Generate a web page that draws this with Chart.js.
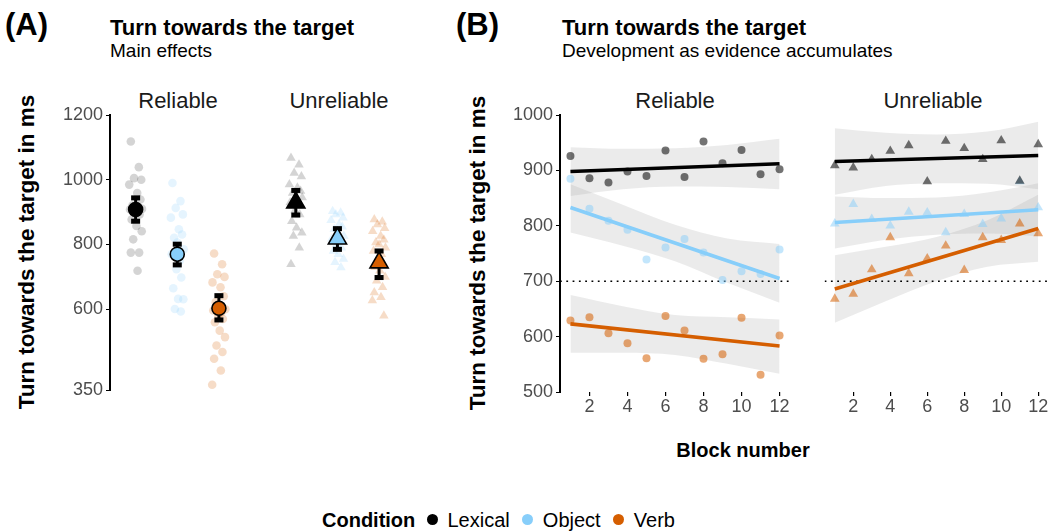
<!DOCTYPE html>
<html>
<head>
<meta charset="utf-8">
<script src="https://cdn.jsdelivr.net/npm/chart.js@4.4.1/dist/chart.umd.min.js"></script>
<style>
  html, body { margin:0; padding:0; background:#fff; }
  body { width:1057px; height:532px; position:relative; overflow:hidden;
         font-family:"Liberation Sans", Arial, Helvetica, sans-serif; color:#000; }
  .t { position:absolute; white-space:nowrap; line-height:1; }
  .c { transform:translate(-50%,0); }
  .rot { position:absolute; white-space:nowrap; line-height:1; transform:translate(-50%,-50%) rotate(-90deg); font-weight:bold; font-size:22.5px; }
  canvas { position:absolute; }
  .dot { display:inline-block; width:11px; height:11px; border-radius:50%; vertical-align:middle; position:relative; top:-2px; }
</style>
</head>
<body>
<!-- Panel A titles -->
<div class="t" style="left:5px;top:9px;font-size:31px;font-weight:bold;">(A)</div>
<div class="t" style="left:110px;top:17px;font-size:22px;font-weight:bold;">Turn towards the target</div>
<div class="t" style="left:110px;top:41px;font-size:19px;">Main effects</div>
<!-- Panel B titles -->
<div class="t" style="left:456px;top:9px;font-size:31px;font-weight:bold;">(B)</div>
<div class="t" style="left:562px;top:17px;font-size:22px;font-weight:bold;">Turn towards the target</div>
<div class="t" style="left:562px;top:41px;font-size:19px;">Development as evidence accumulates</div>

<!-- strip labels -->
<div class="t c" style="left:178px;top:90px;font-size:22px;color:#1a1a1a;">Reliable</div>
<div class="t c" style="left:339px;top:90px;font-size:22px;color:#1a1a1a;">Unreliable</div>
<div class="t c" style="left:675px;top:90px;font-size:22px;color:#1a1a1a;">Reliable</div>
<div class="t c" style="left:933px;top:90px;font-size:22px;color:#1a1a1a;">Unreliable</div>

<!-- y axis titles -->
<div class="rot" style="left:27px;top:252px;">Turn towards the target in ms</div>
<div class="rot" style="left:478px;top:253px;">Turn towards the target in ms</div>

<!-- x axis title -->
<div class="t c" style="left:743px;top:440px;font-size:20px;font-weight:bold;">Block number</div>

<!-- legend -->
<div class="t" style="left:322px;top:510px;font-size:20px;">
  <span style="font-weight:bold;">Condition</span>
  <span class="dot" style="background:#000;margin-left:6px;"></span>
  <span style="margin-left:4px;">Lexical</span>
  <span class="dot" style="background:#87CEFA;margin-left:7px;"></span>
  <span style="margin-left:4px;">Object</span>
  <span class="dot" style="background:#D55E00;margin-left:7px;"></span>
  <span style="margin-left:4px;">Verb</span>
</div>

<canvas id="chartA" width="380" height="304" style="left:40px;top:100px;"></canvas>
<canvas id="chartB1" width="310" height="322" style="left:490px;top:100px;"></canvas>
<canvas id="chartB2" width="235" height="322" style="left:819px;top:100px;"></canvas>

<script>
// ---------------- DATA ----------------
const conditions = ['Lexical', 'Object', 'Verb'];
const reliabilities = ['Reliable', 'Unreliable'];

// Panel A: condition means with 95% CI
const meanReliable   = [908, 770, 603];
const loReliable     = [872, 737, 567];
const hiReliable     = [944, 801, 642];
const meanUnreliable = [929, 818, 744];
const loUnreliable   = [891, 785, 698];
const hiUnreliable   = [967, 849, 780];

// Panel A: participant-level values
const partRelLexical = [1118,1039,1005,1000,985,959,939,920,913,910,908,903,900,893,877,857,841,816,775,775,719];
const partRelObject  = [990,934,913,893,883,847,831,821,806,785,770,749,724,698,665,632,631,601,593];
const partRelVerb    = [772,739,708,700,683,668,640,622,610,600,596,590,580,570,560,534,514,488,468,447,411,367];
const partUnrLexical = [1067,1046,1021,1010,985,975,965,959,949,945,930,920,905,893,872,852,836,826,790,739];
const partUnrObject  = [903,898,893,883,875,862,855,847,840,826,818,811,800,790,780,770,755,745,729];
const partUnrVerb    = [877,870,862,850,841,826,815,806,800,790,780,770,760,744,730,719,700,688,668,652,637,627,580];

const yTicksA = [350, 600, 800, 1000, 1200];

// Panel B: block means
const blocks = [1,2,3,4,5,6,7,8,9,10,11,12];
const relLexical = [926,886,878,898,890,936,888,952,913,937,893,902];
const relObject  = [885,831,809,793,739,761,776,752,702,718,713,757];
const relVerb    = [629,635,606,588,561,637,611,560,568,634,531,602];
const unrLexical = [909,905,920,935,945,880,953,940,920,954,881,947];
const unrObject  = [804,839,812,800,825,824,788,821,803,813,880,833];
const unrVerb    = [668,677,721,779,714,741,764,720,779,774,804,786];

// Panel B: linear fits (at block 1 and block 12)
const fitX = [1, 12];
const relLexicalFit = [898, 912];
const relObjectFit  = [833, 705];
const relVerbFit    = [623, 583];
const unrLexicalFit = [916, 927];
const unrObjectFit  = [806, 829];
const unrVerbFit    = [686, 795];

// Panel B: confidence bands
const bandX = [1, 3.75, 6.5, 9.25, 12];
const relLexicalUpper = [942, 939, 940, 946, 957];
const relLexicalLower = [854, 866, 871, 870, 866];
const relObjectUpper  = [875, 838, 802, 777, 767];
const relObjectLower  = [788, 764, 736, 697, 661];
const relVerbUpper    = [675, 655, 639, 635, 631];
const relVerbLower    = [571, 571, 567, 551, 533];
const unrLexicalUpper = [976, 968, 965, 970, 988];
const unrLexicalLower = [856, 872, 877, 876, 866];
const unrObjectUpper  = [853, 850, 851, 860, 877];
const unrObjectLower  = [759, 775, 784, 786, 781];
const unrVerbUpper    = [747, 762, 780, 810, 856];
const unrVerbLower    = [625, 664, 700, 726, 735];

const refLine = 700;
const xTicksB = [2, 4, 6, 8, 10, 12];
const yTicksB = [500, 600, 700, 800, 900, 1000];

// ---------------- STYLE ----------------
const FONT = '"Liberation Sans", Arial, Helvetica, sans-serif';
Chart.defaults.font.family = FONT;
const COLORS = ['#000000', '#87CEFA', '#D55E00'];
function rgba(hex, a) {
  const r = parseInt(hex.slice(1,3),16), g = parseInt(hex.slice(3,5),16), b = parseInt(hex.slice(5,7),16);
  return `rgba(${r},${g},${b},${a})`;
}
const plainTick = v => String(v);
const JITTER = [-0.03,0.02,-0.01,0.035,-0.04,0.01,0.03,-0.02,0.0,0.04,-0.035,0.015,-0.005,0.025,-0.025,0.005,0.038,-0.015,0.022,-0.03,0.012,-0.042,0.03,-0.008];
const GROUP_POS = [1, 2];
const COND_OFFSET = [-0.26, 0, 0.26];

// ---------------- PANEL A ----------------
const errorBarPlugin = {
  id: 'errorBars',
  beforeDatasetDraw(chart, args) {
    const ds = chart.data.datasets[args.index];
    if (!ds.errorBars) return;
    const { ctx } = chart;
    const x = chart.scales.x, y = chart.scales.y;
    ctx.save();
    ctx.strokeStyle = '#000';
    ctx.fillStyle = '#000';
    ds.errorBars.forEach(e => {
      const px = x.getPixelForValue(e.x);
      const top = y.getPixelForValue(e.hi), bot = y.getPixelForValue(e.lo);
      ctx.lineWidth = 3;
      ctx.beginPath(); ctx.moveTo(px, top); ctx.lineTo(px, bot); ctx.stroke();
      ctx.fillRect(px - 4.5, top - 2.5, 9, 5);
      ctx.fillRect(px - 4.5, bot - 2.5, 9, 5);
    });
    ctx.restore();
  }
};

const partsA = [
  [partRelLexical, partRelObject, partRelVerb],
  [partUnrLexical, partUnrObject, partUnrVerb]
];
const meansA = [meanReliable, meanUnreliable];
const losA = [loReliable, loUnreliable];
const hisA = [hiReliable, hiUnreliable];
const jitterAlpha = [0.17, 0.22, 0.22];

const dsA = [];
reliabilities.forEach((rel, r) => {
  conditions.forEach((cond, c) => {
    dsA.push({
      label: rel + ' ' + cond + ' participants',
      data: partsA[r][c].map((v, i) => ({ x: GROUP_POS[r] + COND_OFFSET[c] + JITTER[i % JITTER.length], y: v })),
      pointStyle: r === 0 ? 'circle' : 'triangle',
      pointRadius: r === 0 ? 4.3 : 5.5,
      backgroundColor: rgba(COLORS[c], jitterAlpha[c]),
      borderWidth: 0,
      order: 3
    });
  });
});
const meanPts = [], meanBars = [], meanFill = [], meanStyle = [], meanRad = [];
reliabilities.forEach((rel, r) => {
  conditions.forEach((cond, c) => {
    const xp = GROUP_POS[r] + COND_OFFSET[c];
    meanPts.push({ x: xp, y: meansA[r][c] });
    meanBars.push({ x: xp, lo: losA[r][c], hi: hisA[r][c] });
    meanFill.push(COLORS[c]);
    meanStyle.push(r === 0 ? 'circle' : 'triangle');
    meanRad.push(r === 0 ? 7 : 10.5);
  });
});
dsA.push({
  label: 'means',
  data: meanPts,
  errorBars: meanBars,
  pointStyle: meanStyle,
  pointRadius: meanRad,
  backgroundColor: meanFill,
  borderColor: '#000',
  borderWidth: 1.6,
  order: 1
});

new Chart(document.getElementById('chartA'), {
  type: 'scatter',
  data: { datasets: dsA },
  plugins: [errorBarPlugin],
  options: {
    responsive: false, animation: false, devicePixelRatio: 1,
    layout: { padding: { top: 15, right: 10, bottom: 12, left: 0 } },
    plugins: { legend: { display: false }, tooltip: { enabled: false } },
    elements: { point: { hoverRadius: 0 } },
    scales: {
      x: { type: 'linear', min: 0.58, max: 2.44, display: false },
      y: {
        type: 'linear', min: 350, max: 1200,
        afterBuildTicks: s => { s.ticks = yTicksA.map(v => ({ value: v })); },
        afterFit: s => { s.width = 70; },
        border: { display: true, color: '#000', width: 2 },
        grid: { drawOnChartArea: false, drawTicks: true, tickLength: 4, color: '#000', lineWidth: 1 },
        ticks: { color: '#4d4d4d', font: { size: 18, family: FONT }, padding: 3, callback: plainTick }
      }
    }
  }
});

// ---------------- PANEL B ----------------
function panelBDatasets(pts, fits, uppers, lowers, style) {
  const ds = [];
  for (let c = 0; c < 3; c++) {
    ds.push({
      label: conditions[c] + ' band upper',
      data: bandX.map((x, i) => ({ x, y: uppers[c][i] })),
      showLine: true, pointRadius: 0, borderWidth: 0, borderColor: 'rgba(0,0,0,0)',
      backgroundColor: 'rgba(153,153,153,0.2)',
      fill: '+1', cubicInterpolationMode: 'monotone', order: 5
    });
    ds.push({
      label: conditions[c] + ' band lower',
      data: bandX.map((x, i) => ({ x, y: lowers[c][i] })),
      showLine: true, pointRadius: 0, borderWidth: 0, borderColor: 'rgba(0,0,0,0)',
      fill: false, cubicInterpolationMode: 'monotone', order: 5
    });
  }
  ds.push({
    label: 'reference',
    data: [{ x: 0.45, y: refLine }, { x: 12.55, y: refLine }],
    showLine: true, pointRadius: 0, borderColor: '#000', borderWidth: 1.5,
    borderDash: [1.8, 4.5], fill: false, order: 4
  });
  for (let c = 0; c < 3; c++) {
    ds.push({
      label: conditions[c] + ' blocks',
      data: blocks.map((b, i) => ({ x: b, y: pts[c][i] })),
      pointStyle: style,
      pointRadius: style === 'circle' ? 4 : 5.6,
      backgroundColor: rgba(COLORS[c], c === 1 ? 0.5 : 0.55),
      borderWidth: 0, clip: false, order: 3
    });
  }
  for (let c = 0; c < 3; c++) {
    ds.push({
      label: conditions[c] + ' fit',
      data: fitX.map((x, i) => ({ x, y: fits[c][i] })),
      showLine: true, pointRadius: 0, borderColor: COLORS[c], borderWidth: 3.6,
      fill: false, order: 1
    });
  }
  return ds;
}

function panelBOptions(showY) {
  return {
    responsive: false, animation: false, devicePixelRatio: 1,
    layout: { padding: { top: 15, right: showY ? 10 : 5, bottom: 0, left: 0 } },
    plugins: { legend: { display: false }, tooltip: { enabled: false } },
    elements: { point: { hoverRadius: 0 } },
    scales: {
      x: {
        type: 'linear', min: 0.45, max: 12.55,
        afterBuildTicks: s => { s.ticks = xTicksB.map(v => ({ value: v })); },
        afterFit: s => { s.height = 30; },
        border: { display: false },
        grid: { drawOnChartArea: false, drawTicks: true, tickLength: 4, color: '#000', lineWidth: 1.2 },
        ticks: { color: '#4d4d4d', font: { size: 18, family: FONT }, padding: 0, maxRotation: 0, autoSkip: false, callback: plainTick }
      },
      y: {
        type: 'linear', min: 500, max: 1000, display: showY,
        afterBuildTicks: s => { s.ticks = yTicksB.map(v => ({ value: v })); },
        afterFit: s => { s.width = showY ? 70 : 0; },
        border: { display: true, color: '#000', width: 2 },
        grid: { drawOnChartArea: false, drawTicks: true, tickLength: 4, color: '#000', lineWidth: 1 },
        ticks: { color: '#4d4d4d', font: { size: 18, family: FONT }, padding: 3, callback: plainTick }
      }
    }
  };
}

new Chart(document.getElementById('chartB1'), {
  type: 'scatter',
  data: { datasets: panelBDatasets(
    [relLexical, relObject, relVerb],
    [relLexicalFit, relObjectFit, relVerbFit],
    [relLexicalUpper, relObjectUpper, relVerbUpper],
    [relLexicalLower, relObjectLower, relVerbLower], 'circle') },
  options: panelBOptions(true)
});

new Chart(document.getElementById('chartB2'), {
  type: 'scatter',
  data: { datasets: panelBDatasets(
    [unrLexical, unrObject, unrVerb],
    [unrLexicalFit, unrObjectFit, unrVerbFit],
    [unrLexicalUpper, unrObjectUpper, unrVerbUpper],
    [unrLexicalLower, unrObjectLower, unrVerbLower], 'triangle') },
  options: panelBOptions(false)
});
</script>
</body>
</html>
